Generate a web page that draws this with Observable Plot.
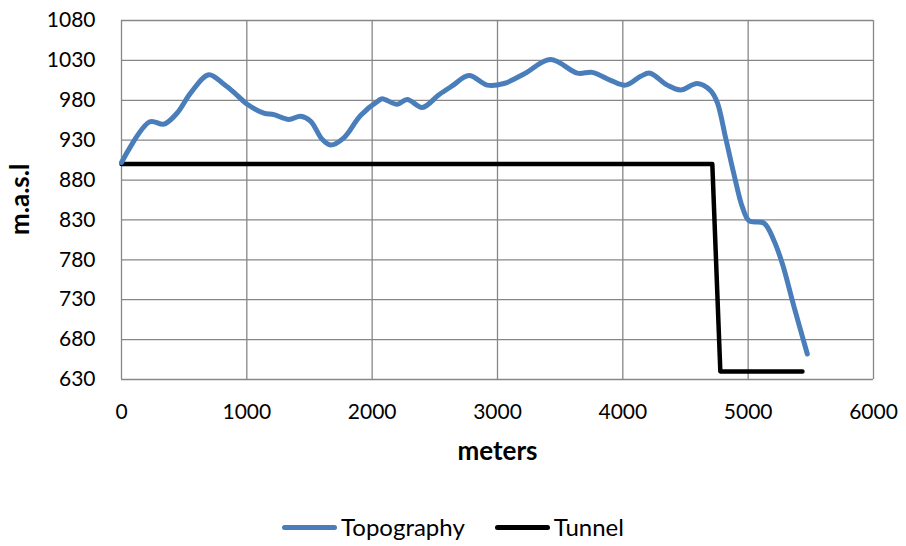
<!DOCTYPE html>
<html>
<head>
<meta charset="utf-8">
<script src="https://cdn.jsdelivr.net/npm/d3@7"></script>
<script src="https://cdn.jsdelivr.net/npm/@observablehq/plot@0.6"></script>
<style>
  html, body { margin: 0; padding: 0; background: #fff; }
  body { width: 906px; height: 546px; overflow: hidden; font-family: Lato, "Open Sans", sans-serif; }
  #legend { display: flex; justify-content: center; align-items: center; gap: 30px; margin-top: 22px; font-size: 24px; line-height: 30px; color: #000; }
  .item { display: flex; align-items: center; }
  .sw { width: 55px; height: 5px; border-radius: 3px; margin-right: 4px; }
</style>
</head>
<body>
<div id="chart"></div>
<div id="legend"></div>
<script>
const topoMeters = [0, 226, 338, 444, 551, 697, 817, 897, 1003, 1136, 1216, 1335, 1429, 1508, 1601, 1668, 1774, 1907, 2054, 2080, 2200, 2280, 2400, 2533, 2639, 2772, 2918, 3051, 3211, 3424, 3637, 3756, 3903, 4022, 4142, 4216, 4355, 4461, 4594, 4701, 4754, 4820, 4887, 4954, 5007, 5126, 5206, 5273, 5366, 5472];
const topoElev   = [902, 953, 950, 964, 989, 1012, 1000, 990, 975, 964, 962, 956, 960, 954, 931, 924, 933, 961, 980, 982, 975, 981, 971, 987, 998, 1011, 999, 1001, 1013, 1031, 1014, 1015, 1005, 999, 1010, 1014, 999, 993, 1001, 992, 977, 933, 887, 846, 829, 826, 804, 775, 721, 662];
const tunnelMeters = [0, 4714, 4778, 5433];
const tunnelElev   = [900, 900, 640, 640];
const xTicks = [0, 1000, 2000, 3000, 4000, 5000, 6000];
const yTicks = [630, 680, 730, 780, 830, 880, 930, 980, 1030, 1080];
const seriesNames = ["Topography", "Tunnel"];
const seriesColors = ["#4a7ebb", "#000000"];

const topo = topoMeters.map((m, i) => ({m, e: topoElev[i]}));
const tunnel = tunnelMeters.map((m, i) => ({m, e: tunnelElev[i]}));

const plot = Plot.plot({
  width: 906,
  height: 490,
  marginTop: 20,
  marginBottom: 111,
  marginLeft: 121,
  marginRight: 33,
  style: { fontFamily: "Lato, 'Open Sans', sans-serif", fontSize: "21px", color: "#000", background: "#fff" },
  x: { domain: [0, 6000] },
  y: { domain: [630, 1080] },
  marks: [
    Plot.gridX(xTicks, { stroke: "#878787", strokeOpacity: 1, strokeWidth: 1.3 }),
    Plot.gridY(yTicks, { stroke: "#878787", strokeOpacity: 1, strokeWidth: 1.3 }),
    Plot.axisX(xTicks, { tickSize: 0, tickPadding: 25, label: null, tickFormat: d => String(d), fill: "#000" }),
    Plot.axisY(yTicks, { tickSize: 0, tickPadding: 26, label: null, tickFormat: d => String(d), fill: "#000" }),
    Plot.line(tunnel, { x: "m", y: "e", stroke: seriesColors[1], strokeWidth: 4.5, curve: "linear", strokeLinejoin: "round", strokeLinecap: "round" }),
    Plot.line(topo, { x: "m", y: "e", stroke: seriesColors[0], strokeWidth: 5, curve: "catmull-rom", strokeLinecap: "round" }),
    Plot.text(["meters"], { frameAnchor: "bottom", dy: 80, fontWeight: "bold", fontSize: 26, fill: "#000" }),
    Plot.text(["m.a.s.l"], { frameAnchor: "left", dx: -101, dy: 35, rotate: -90, fontWeight: "bold", fontSize: 26, fill: "#000" })
  ]
});
document.getElementById("chart").appendChild(plot);

const legend = document.getElementById("legend");
seriesNames.forEach((name, i) => {
  const item = document.createElement("div");
  item.className = "item";
  const sw = document.createElement("div");
  sw.className = "sw";
  sw.style.background = seriesColors[i];
  const t = document.createElement("span");
  t.textContent = name;
  item.appendChild(sw);
  item.appendChild(t);
  legend.appendChild(item);
});
</script>
</body>
</html>
